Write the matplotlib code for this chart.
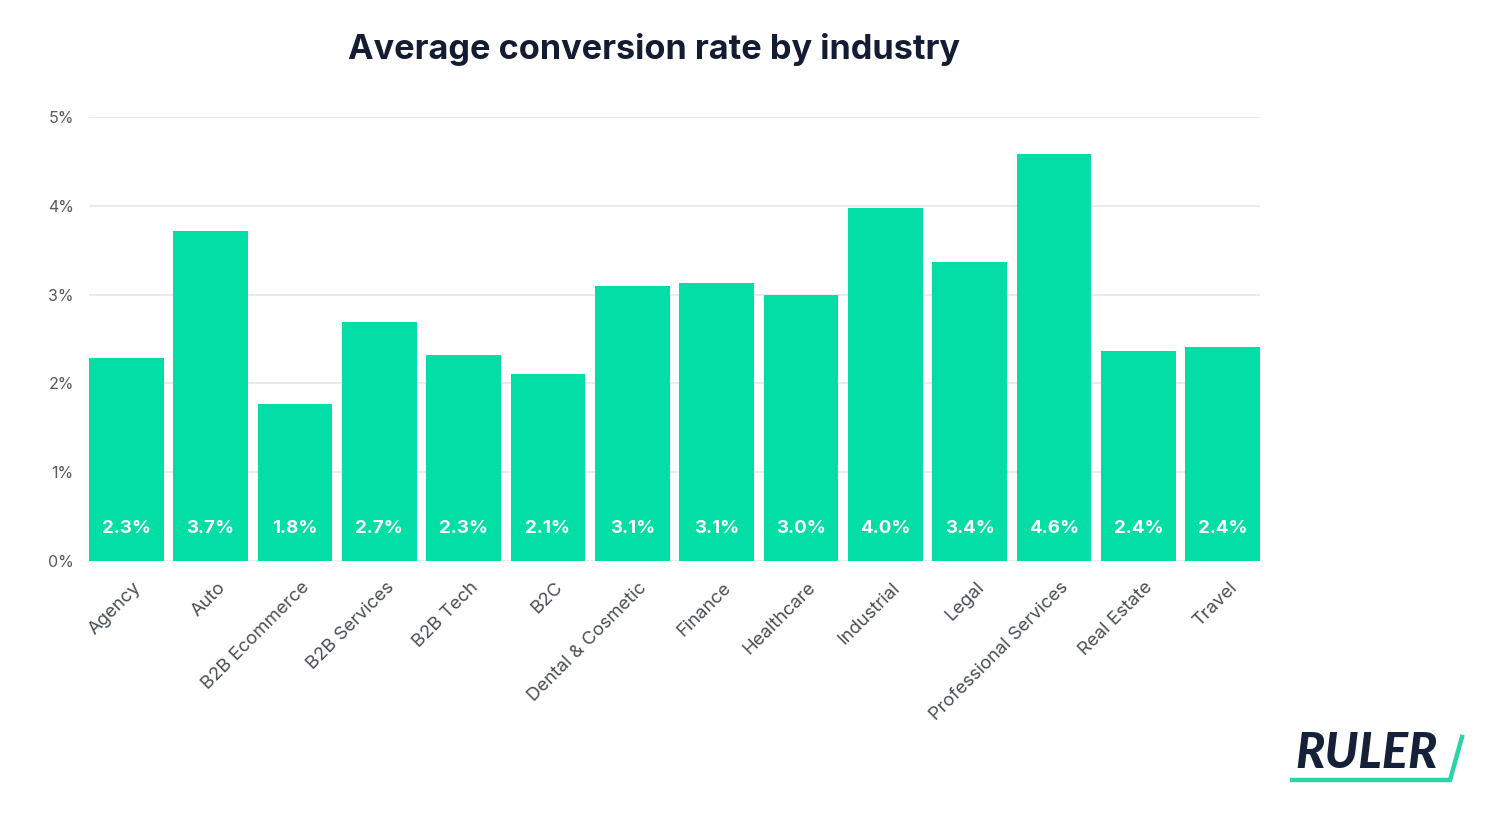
import matplotlib
matplotlib.use("Agg")
import matplotlib.pyplot as plt
import matplotlib.transforms as mtransforms
from matplotlib.lines import Line2D

categories = ["Agency", "Auto", "B2B Ecommerce", "B2B Services", "B2B Tech", "B2C",
              "Dental & Cosmetic", "Finance", "Healthcare", "Industrial", "Legal",
              "Professional Services", "Real Estate", "Travel"]
values = [2.29, 3.72, 1.77, 2.69, 2.32, 2.11, 3.10, 3.13, 3.00, 3.98, 3.37, 4.58, 2.36, 2.41]
yticks = [0, 1, 2, 3, 4, 5]
ytick_labels = ["0%", "1%", "2%", "3%", "4%", "5%"]
title = "Average conversion rate by industry"

W, H = 1486, 815
fig = plt.figure(figsize=(W / 100, H / 100), dpi=100)
fig.patch.set_facecolor("white")

ax_left, ax_right, ax_top, ax_bot = 89, 1260, 117, 561
ax = fig.add_axes([ax_left / W, 1 - ax_bot / H, (ax_right - ax_left) / W, (ax_bot - ax_top) / H])

bar_w = 0.885
green = "#02DEA6"
x = list(range(len(categories)))
ax.bar(x, values, width=bar_w, color=green, zorder=3)

ax.set_xlim(-bar_w / 2, len(categories) - 1 + bar_w / 2)
ax.set_ylim(0, 5)
ax.set_yticks(yticks)
ax.set_yticklabels(ytick_labels, fontsize=11.5, color="#555a60", family="Inter")
ax.grid(axis="y", color="#e6e7ea", linewidth=1.2, zorder=0)
ax.set_axisbelow(True)
for s in ax.spines.values():
    s.set_visible(False)
ax.tick_params(axis="both", length=0)
ax.tick_params(axis="y", pad=11)
ax.set_xticks(x)
ax.set_xticklabels(categories, rotation=45, ha="right", rotation_mode="anchor",
                   fontsize=13.3, color="#4a4f57", family="Inter")
ax.tick_params(axis="x", pad=13)
offset = mtransforms.ScaledTranslation(6 / 100, 0, fig.dpi_scale_trans)
for lbl in ax.get_xticklabels():
    lbl.set_transform(lbl.get_transform() + offset)

for xi, v in zip(x, values):
    ax.text(xi, 0.37, f"{v:.1f}%", ha="center", va="center", color="white",
            fontsize=13.5, fontweight="bold", family="Inter", zorder=5)

fig.text(654 / W, 1 - 49 / H, title, ha="center", va="center", fontsize=24.7,
         fontweight="bold", color="#141c33", family="Inter")

# RULER logo
fig.text(1295 / W, 1 - 754 / H, "RULER", ha="left", va="center", fontsize=35,
         fontweight="black", fontstyle="italic", color="#152039", family="Lato")
fig.add_artist(Line2D([1292 / W, 1450 / W, 1462 / W], [1 - 780 / H, 1 - 780 / H, 1 - 737 / H],
                      color="#2bd3a6", linewidth=3.2, solid_joinstyle="miter"))

fig.savefig("out.png", dpi=100, facecolor="white")
